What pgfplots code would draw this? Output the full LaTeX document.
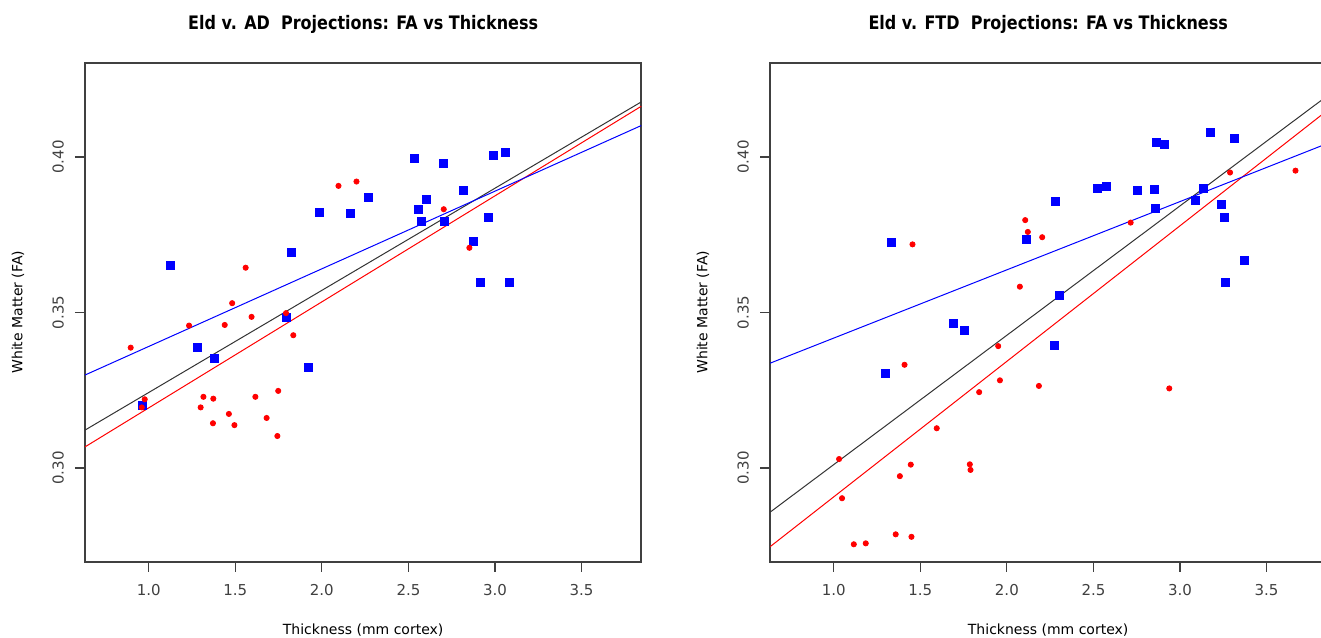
\documentclass[border=0pt]{standalone}
\usepackage{fontspec}
\setmainfont{DejaVu Sans}
\newfontfamily\titlefont[FakeStretch=0.86]{DejaVu Sans}
\usepackage{pgfplots}
\pgfplotsset{compat=1.18}

\definecolor{axgray}{RGB}{64,64,64}

\pgfplotsset{
  panel/.style={
    scale only axis, width=278.15pt, height=249.5pt,
    xmin=0.632, xmax=3.845, ymin=0.2699, ymax=0.4303,
    axis line style={axgray, line width=0.9pt},
    tick style={axgray, line width=0.6pt},
    tick align=outside, major tick length=5pt,
    xtick={1,1.5,2,2.5,3,3.5}, ytick={0.30,0.35,0.40},
    xtick pos=bottom, ytick pos=left,
    xticklabel style={/pgf/number format/fixed, /pgf/number format/fixed zerofill, /pgf/number format/precision=1},
    yticklabel style={/pgf/number format/fixed, /pgf/number format/fixed zerofill, /pgf/number format/precision=2, rotate=90, anchor=south},
    /pgf/number format/assume math mode=true,
    ticklabel style={font=\fontsize{7.5}{9}\selectfont, text=axgray},
    xticklabel shift=3pt, yticklabel shift=2pt,
    xlabel={Thickness (mm cortex)}, ylabel={White Matter (FA)},
    label style={font=\fontsize{7}{8}\selectfont},
    xlabel style={at={(axis description cs:0.5,0)}, anchor=center, yshift=-34pt},
    ylabel style={at={(axis description cs:0,0.5)}, anchor=center, yshift=33.5pt},
    title style={at={(axis description cs:0.5,1)}, anchor=center, yshift=13pt,
      font=\titlefont\bfseries\fontsize{9.3}{11}\selectfont},
  },
  bluept/.style={only marks, mark=square*, mark size=2pt, blue, mark options={draw=blue, fill=blue}},
  redpt/.style={only marks, mark=*, mark size=1.3pt, red, mark options={draw=red, fill=red}},
}

\begin{document}
\begin{tikzpicture}
\useasboundingbox (0,0) rectangle (660.5pt,318.5pt);

\begin{axis}[panel, at={(42.5pt,37.65pt)}, anchor=south west,
  title={Eld v. AD\ \ Projections: FA vs Thickness}]
\addplot[bluept] coordinates {
(1.123,0.3650)(1.281,0.3387)(1.381,0.3351)(0.965,0.3203)(1.795,0.3485)
(1.923,0.3323)(1.825,0.3692)(1.984,0.3823)(2.163,0.3817)(2.269,0.3869)
(2.537,0.3996)(2.700,0.3978)(2.604,0.3862)(2.560,0.3830)(2.577,0.3794)
(2.708,0.3792)(2.819,0.3892)(2.993,0.4006)(3.062,0.4016)(2.960,0.3805)
(2.874,0.3730)(2.916,0.3596)(3.081,0.3596)};
\addplot[redpt] coordinates {
(0.896,0.3387)(0.960,0.3195)(0.977,0.3221)(1.233,0.3458)(1.300,0.3195)
(1.316,0.3229)(1.373,0.3223)(1.371,0.3144)(1.439,0.3460)(1.463,0.3174)
(1.482,0.3530)(1.495,0.3138)(1.560,0.3644)(1.594,0.3486)(1.616,0.3229)
(1.681,0.3161)(1.748,0.3248)(1.743,0.3103)(1.793,0.3498)(1.835,0.3427)
(2.096,0.3907)(2.200,0.3921)(2.704,0.3832)(2.852,0.3708)};
\addplot[black!80, line width=0.5pt] coordinates {(0.632,0.3122)(3.845,0.4177)};
\addplot[red, line width=0.5pt] coordinates {(0.632,0.3068)(3.845,0.4163)};
\addplot[blue, line width=0.5pt] coordinates {(0.632,0.3299)(3.845,0.4101)};
\end{axis}

\begin{axis}[panel, at={(385pt,37.65pt)}, anchor=south west,
  title={Eld v. FTD\ \ Projections: FA vs Thickness}]
\addplot[bluept] coordinates {
(1.331,0.3726)(1.299,0.3305)(1.692,0.3464)(1.753,0.3443)(2.110,0.3736)
(2.281,0.3856)(2.306,0.3556)(2.277,0.3393)(2.520,0.3898)(2.574,0.3905)
(2.753,0.3892)(2.851,0.3896)(2.855,0.3835)(2.865,0.4046)(2.912,0.4041)
(3.091,0.3861)(3.135,0.3900)(3.173,0.4078)(3.241,0.3849)(3.254,0.3805)
(3.262,0.3598)(3.316,0.4061)(3.370,0.3666)};
\addplot[redpt] coordinates {
(1.031,0.3029)(1.048,0.2903)(1.116,0.2755)(1.185,0.2758)(1.358,0.2787)
(1.382,0.2974)(1.409,0.3332)(1.445,0.3011)(1.449,0.2779)(1.455,0.3719)
(1.595,0.3128)(1.786,0.3012)(1.790,0.2994)(1.840,0.3244)(1.950,0.3392)
(1.960,0.3282)(2.075,0.3583)(2.106,0.3797)(2.121,0.3759)(2.185,0.3264)
(2.204,0.3742)(2.715,0.3789)(2.938,0.3256)(3.289,0.3950)(3.667,0.3956)};
\addplot[black!80, line width=0.5pt] coordinates {(0.632,0.2858)(3.845,0.4194)};
\addplot[red, line width=0.5pt] coordinates {(0.632,0.2747)(3.845,0.4147)};
\addplot[blue, line width=0.5pt] coordinates {(0.632,0.3337)(3.845,0.4042)};
\end{axis}
\end{tikzpicture}
\end{document}
